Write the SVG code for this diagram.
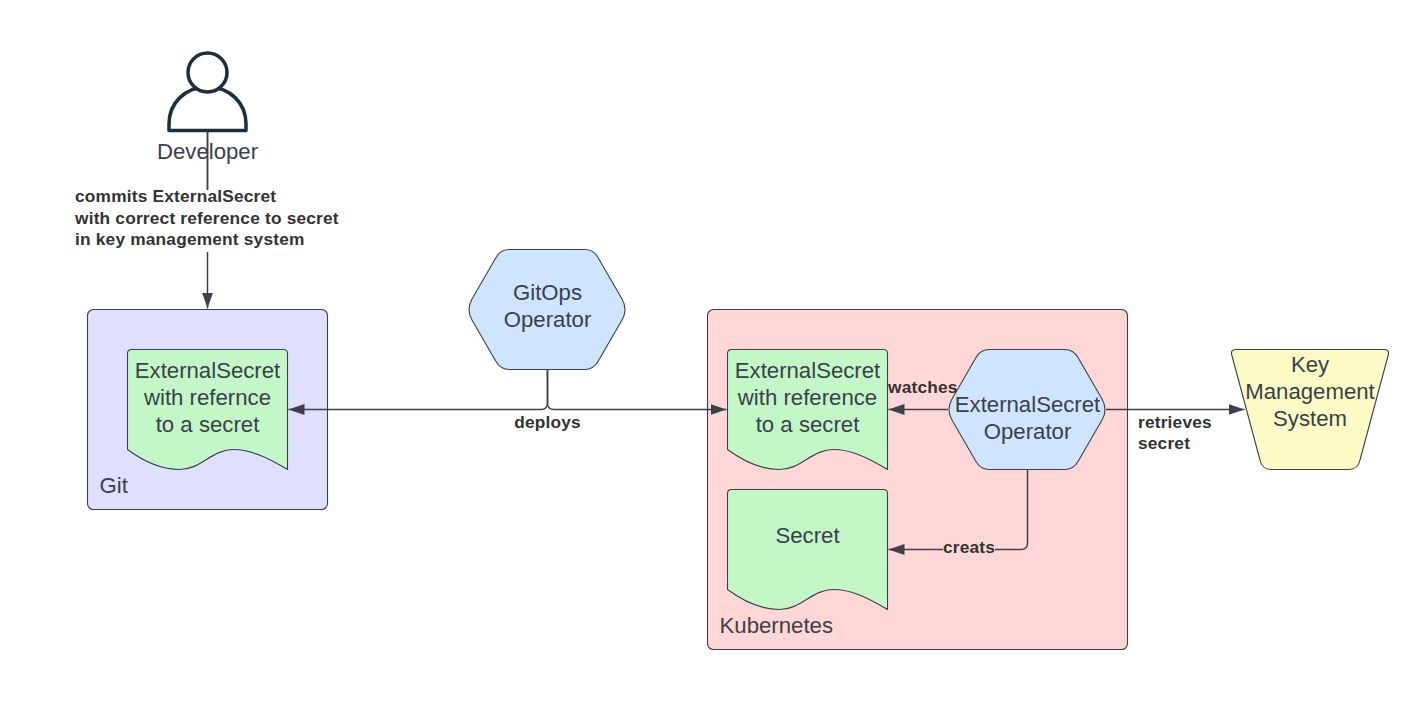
<svg xmlns="http://www.w3.org/2000/svg" width="1412" height="701" viewBox="0 0 1412 701">
<defs>
<style>
text{font-family:"Liberation Sans",Arial,sans-serif;fill:#3a414a;font-size:22.2px}
.m{text-anchor:middle}
.l{font-weight:700;font-size:17.3px;fill:#333;letter-spacing:.2px}
.s{stroke:#3a414a;stroke-width:1.1;stroke-linejoin:round}
.c{fill:none;stroke:#3a414a;stroke-width:1.5}
.h{fill:#cfe4ff}
.d{fill:#c3f7c8}
</style>
<marker id="a" markerUnits="userSpaceOnUse" markerWidth="18" markerHeight="14" refX="16" refY="7" orient="auto"><path d="M0 1.500L16 7L0 12.500Z" fill="#3a414a"/></marker>
<path id="doc" d="M0 4Q0 0 4 0H156Q160 0 160 4V120C140 108 123 100 106 100C84 100 74 120 52 120C33 120 15 111 0 100Z"/>
<path id="hex" d="M3.500 49.500Q-2.500 60 3.500 70.500L27.500 112Q32 120 41 120H116Q125 120 129.500 112L153.500 70.500Q159.500 60 153.500 49.500L129.500 8Q125 0 116 0H41Q32 0 27.500 8Z"/>
</defs>
<rect width="1412" height="701" fill="#fff"/>
<g id="git"><rect class="s" x="87.500" y="309.500" width="240" height="200" rx="6" fill="#dfdfff"/><text x="99.500" y="493">Git</text></g>
<g id="kubernetes"><rect class="s" x="707.500" y="309.500" width="420" height="340" rx="6" fill="#ffd7d8"/><text x="719.500" y="633">Kubernetes</text></g>
<g id="connectors">
<path class="c" d="M207.500 131V190M207.500 252V308.500" marker-end="url(#a)"/>
<path class="c" d="M547.500 370V403Q547.500 409.500 541 409.500H288.500" marker-end="url(#a)"/>
<path class="c" d="M547.500 370V403Q547.500 409.500 554 409.500H726.500" marker-end="url(#a)"/>
<path class="c" d="M948 409.500H888.500" marker-end="url(#a)"/>
<path class="c" d="M1027.500 469V543Q1027.500 549.500 1021 549.500H888.500" marker-end="url(#a)"/>
<path class="c" d="M1106 409.500H1244.500" marker-end="url(#a)"/>
</g>
<g id="developer">
<path d="M169 130.500V124C169 103 185 87 207.500 87S246 103 246 124V130.500Z" fill="#fff" stroke="#1f2d3d" stroke-width="3.500" stroke-linejoin="round"/>
<circle cx="207.500" cy="72.500" r="19.500" fill="#fff" stroke="#1f2d3d" stroke-width="3.500"/>
<text class="m" x="207.500" y="159">Developer</text>
<path class="c" d="M207.500 131V190"/>
</g>
<g id="git-externalsecret"><use href="#doc" x="127.500" y="349.500" class="s d"/><text class="m" x="207.500" y="378">ExternalSecret</text><text class="m" x="207.500" y="405">with refernce</text><text class="m" x="207.500" y="431.500">to a secret</text></g>
<g id="gitops-operator"><use href="#hex" x="468.500" y="249.500" class="s h"/><text class="m" x="547.500" y="299.500">GitOps</text><text class="m" x="547.500" y="326.500">Operator</text></g>
<g id="k8s-externalsecret"><use href="#doc" x="727.500" y="349.500" class="s d"/><text class="m" x="807.500" y="378">ExternalSecret</text><text class="m" x="807.500" y="405">with reference</text><text class="m" x="807.500" y="431.500">to a secret</text></g>
<g id="secret"><use href="#doc" x="727.500" y="489.500" class="s d"/><text class="m" x="807.500" y="543">Secret</text></g>
<g id="externalsecret-operator"><use href="#hex" x="948.500" y="349.500" class="s h"/><text class="m" x="1027.500" y="412">ExternalSecret</text><text class="m" x="1027.500" y="439">Operator</text></g>
<g id="kms"><path class="s" d="M1231.500 354Q1231 349.500 1236 349.500H1384Q1389 349.500 1388.500 354L1360 460Q1358 469.500 1349 469.500H1271Q1262 469.500 1260 460Z" fill="#fdfbc5"/><text class="m" x="1310" y="372">Key</text><text class="m" x="1310" y="399">Management</text><text class="m" x="1310" y="425.500">System</text></g>
<g id="labels">
<text class="l" x="75" y="202">commits ExternalSecret</text>
<text class="l" x="75" y="223.500">with correct reference to secret</text>
<text class="l" x="75" y="245">in key management system</text>
<text class="l m" x="547.500" y="427.500">deploys</text>
<text class="l" x="888" y="393">watches</text>
<rect x="943" y="538" width="52" height="20" fill="#ffd7d8"/>
<text class="l" x="943" y="553">creats</text>
<text class="l" x="1138" y="427.500">retrieves</text>
<text class="l" x="1138" y="449">secret</text>
</g>
</svg>
